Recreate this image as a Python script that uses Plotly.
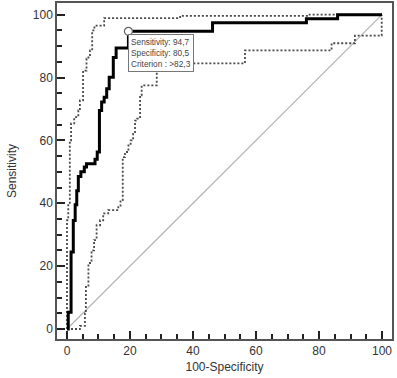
import plotly.graph_objects as go

# ROC curve (100-Specificity, Sensitivity), step vertices
roc_x = [0, 0.4, 1.3, 2.0, 2.6, 3.1, 3.6, 4.4, 5.5, 6.2, 8.9, 9.6, 10.3, 11.0, 11.8,
         12.6, 13.4, 14.7, 15.6, 19.5, 46.2, 76.0, 85.9, 100]
roc_y = [0, 5.3, 24.5, 34.5, 39.5, 44, 48.5, 50, 51.5, 52.6, 54, 56.3, 69.5, 72.2, 73.7,
         76.4, 80.1, 86.4, 89.4, 94.7, 97.4, 98.7, 100, 100]

# Upper confidence bound
upper_x = [0, 0.0, 0.4, 0.9, 1.3, 2.3, 3.6, 4.1, 5.1, 6.2, 6.8, 7.3, 8.0, 8.7, 11.8, 35.9, 77.0, 100]
upper_y = [0, 34.6, 39.4, 60.0, 65.4, 67.4, 69.5, 72.7, 82.2, 86.0, 86.4, 88.6, 95.0, 96.5,
           98.9, 99.6, 100, 100]

# Lower confidence bound
lower_x = [0, 4.1, 5.7, 6.0, 6.8, 7.8, 8.6, 9.4, 10.5, 11.5, 13.1, 16.3, 17.0, 17.7, 18.4,
           19.5, 20.2, 21.0, 21.6, 22.3, 23.2, 23.7, 28.5, 56.5, 84.0, 91.4, 99.9, 100]
lower_y = [0, 1, 5, 13.4, 21, 25, 28.3, 33, 34.6, 36.8, 37.8, 38.8, 41, 54.7, 56.3, 58.4,
           60, 62.1, 66.3, 66.9, 74.3, 77.5, 84.5, 88.6, 90.9, 93.3, 100, 100]

# Reference diagonal
diag_x = [0, 100]
diag_y = [0, 100]

# Optimal criterion point
opt_x = [19.5]
opt_y = [94.7]
opt_text = "Sensitivity: 94,7<br>Specificity: 80,5<br>Criterion : >82,3"

tick_vals = [0, 20, 40, 60, 80, 100]
tick_text = ["0", "20", "40", "60", "80", "100"]

FONT = "Liberation Sans, Arial"

fig = go.Figure()
fig.add_trace(go.Scatter(x=diag_x, y=diag_y, mode="lines",
                         line=dict(color="#b4b4b4", width=1.2), hoverinfo="skip"))
fig.add_trace(go.Scatter(x=upper_x, y=upper_y, mode="lines", line_shape="hv",
                         line=dict(color="#4a4a4a", width=1.8, dash="2px,2px")))
fig.add_trace(go.Scatter(x=lower_x, y=lower_y, mode="lines", line_shape="hv",
                         line=dict(color="#4a4a4a", width=1.8, dash="2px,2px")))
fig.add_trace(go.Scatter(x=roc_x, y=roc_y, mode="lines", line_shape="hv",
                         line=dict(color="#000000", width=3)))
fig.add_trace(go.Scatter(x=opt_x, y=opt_y, mode="markers",
                         marker=dict(symbol="circle", size=8, color="white",
                                     line=dict(color="#666666", width=1.2))))

fig.add_annotation(x=opt_x[0], y=opt_y[0] - 0.8, xref="x", yref="y",
                   text=opt_text, showarrow=False, xanchor="left", yanchor="top",
                   align="left", font=dict(family=FONT, size=8.3, color="#444444"),
                   bgcolor="white", bordercolor="#777777", borderwidth=1, borderpad=2)

axis_common = dict(
    showline=True, linecolor="#555555", linewidth=1.5, mirror=True,
    ticks="inside", ticklen=8, tickwidth=1.5, tickcolor="#222222",
    tickvals=tick_vals, ticktext=tick_text,
    minor=dict(dtick=5, tick0=0, ticks="inside", ticklen=5, tickwidth=1.5, tickcolor="#222222"),
    showgrid=False, zeroline=False, automargin=False,
    tickfont=dict(family=FONT, size=12, color="#333333"),
)

fig.update_layout(
    width=397, height=378,
    margin=dict(l=57, r=5, t=3, b=39),
    plot_bgcolor="white", paper_bgcolor="white",
    showlegend=False,
    xaxis=dict(range=[-3.17, 103.17],
               title=dict(text="100-Specificity", standoff=5,
                          font=dict(family=FONT, size=12, color="#333333")),
               **axis_common),
    yaxis=dict(range=[-3.18, 103.7],
               title=dict(text="Sensitivity", standoff=14,
                          font=dict(family=FONT, size=12, color="#333333")),
               **axis_common),
)

fig.write_html("out.html", config={"displayModeBar": False},
               post_script="document.body.style.margin='0';document.body.style.padding='0';")
